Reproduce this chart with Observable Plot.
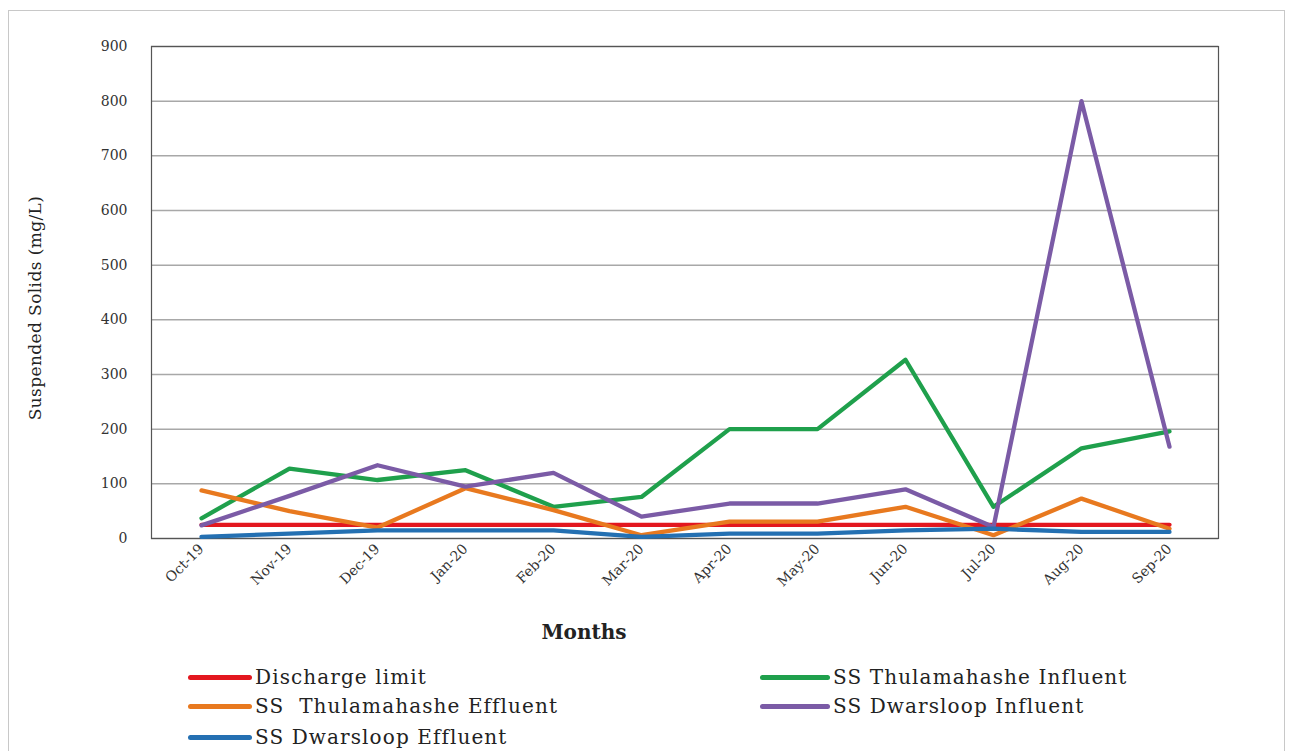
<!DOCTYPE html>
<html>
<head>
<meta charset="utf-8">
<script src="https://cdn.jsdelivr.net/npm/d3@7"></script>
<script src="https://cdn.jsdelivr.net/npm/@observablehq/plot@0.6"></script>
<style>
  html, body { margin: 0; padding: 0; background: #fff; }
  body { width: 1294px; height: 751px; position: relative; overflow: hidden; font-family: "DejaVu Serif", serif; }
  #border { position: absolute; left: 8px; top: 10px; width: 1277px; height: 800px; border: 1px solid #c8c8c8; box-sizing: border-box; }
  #chart { position: absolute; left: 0; top: 0; }
  .leg { position: absolute; font-size: 20px; letter-spacing: 1.1px; color: #222; white-space: pre; line-height: 22px; }
  .sw { position: absolute; height: 5px; border-radius: 3px; }
  #ylab { position: absolute; left: 35px; top: 308px; transform: translate(-50%, -50%) rotate(-90deg); font-size: 17px; letter-spacing: 0.4px; color: #222; white-space: pre; }
</style>
</head>
<body>
<div id="border"></div>
<div id="chart"></div>
<div id="ylab">Suspended Solids (mg/L)</div>
<div id="legend"></div>
<script>
const months = ["Oct-19","Nov-19","Dec-19","Jan-20","Feb-20","Mar-20","Apr-20","May-20","Jun-20","Jul-20","Aug-20","Sep-20"];
const yTicks = [0,100,200,300,400,500,600,700,800,900];
const seriesNames = ["Discharge limit","SS Thulamahashe Influent","SS  Thulamahashe Effluent","SS Dwarsloop Influent","SS Dwarsloop Effluent"];
const seriesColors = ["#e3171f","#1fa04c","#e8791f","#7b5ba6","#2470b2"];
const dischargeLimit = [25,25,25,25,25,25,25,25,25,25,25,25];
const thulInfluent   = [37,128,107,125,58,76,200,200,327,58,165,196];
const thulEffluent   = [88,50,20,92,52,6,31,31,58,6,73,18];
const dwarsInfluent  = [24,78,134,95,120,40,64,64,90,21,800,168];
const dwarsEffluent  = [3,9,15,15,15,3,9,9,15,18,12,12];

const seriesValues = [dischargeLimit, thulInfluent, thulEffluent, dwarsInfluent, dwarsEffluent];
const data = [];
seriesNames.forEach((s, i) => months.forEach((m, j) => data.push({series: s, month: m, value: seriesValues[i][j]})));

const chart = Plot.plot({
  width: 1294,
  height: 660,
  marginLeft: 151,
  marginRight: 76,
  marginTop: 46,
  marginBottom: 122,
  style: {fontFamily: "DejaVu Serif", fontSize: "14px", color: "#333", background: "transparent"},
  x: {type: "point", domain: months, padding: 0.5, label: null, tickRotate: -45, tickSize: 0, tickPadding: 8},
  y: {domain: [0, 900], ticks: yTicks, label: null, tickSize: 0, tickPadding: 24},
  color: {domain: seriesNames, range: seriesColors},
  marks: [
    Plot.ruleY(yTicks, {stroke: "#a8a8a8", strokeWidth: 1.5}),
    Plot.frame({stroke: "#555", strokeWidth: 1.2}),
    Plot.lineY(data, {x: "month", y: "value", stroke: "series", z: "series", strokeWidth: 4.3, strokeLinejoin: "round"}),
    Plot.text(["Months"], {frameAnchor: "bottom", dx: -101, dy: 100, fontWeight: "bold", fontSize: 20, fill: "#222"})
  ]
});
document.getElementById("chart").appendChild(chart);

// [swatch left, swatch width, text left, y]
const legendPos = [[188, 64, 255, 677], [760, 70, 833, 677], [188, 64, 255, 706], [760, 70, 833, 706], [188, 64, 255, 737]];
const legend = document.getElementById("legend");
seriesNames.forEach((s, i) => {
  const [x, w, tx, y] = legendPos[i];
  const sw = document.createElement("div");
  sw.className = "sw";
  sw.style.left = x + "px";
  sw.style.width = w + "px";
  sw.style.top = (y - 2) + "px";
  sw.style.background = seriesColors[i];
  legend.appendChild(sw);
  const t = document.createElement("div");
  t.className = "leg";
  t.style.left = tx + "px";
  t.style.top = (y - 11) + "px";
  t.textContent = s;
  legend.appendChild(t);
});
</script>
</body>
</html>
